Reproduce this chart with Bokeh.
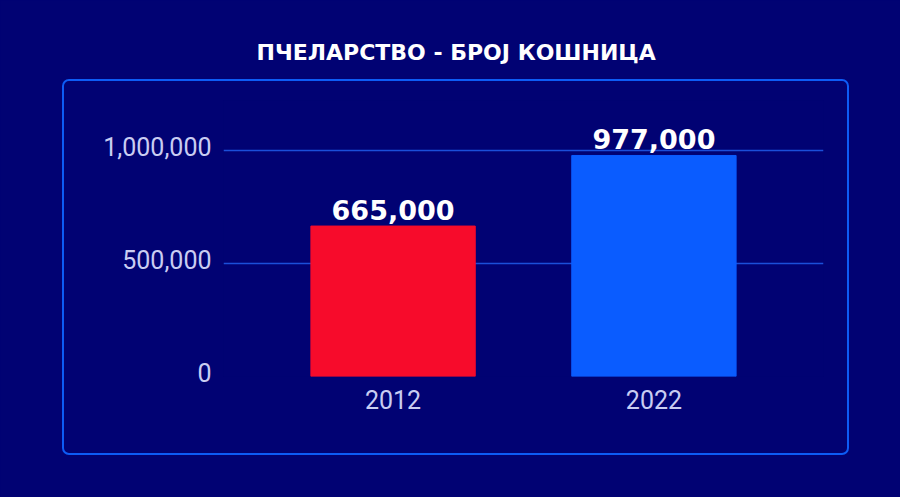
from bokeh.plotting import figure
from bokeh.models import (ColumnDataSource, FactorRange, Range1d, FixedTicker,
                          NumeralTickFormatter, Title, LinearAxis, InlineStyleSheet)
from bokeh.core.properties import value
from bokeh.embed import file_html
from bokeh.resources import INLINE

title_text = "ПЧЕЛАРСТВО - БРОЈ КОШНИЦА"
years = ["2012", "2022"]
hives = [665000, 977000]
hive_labels = ["665,000", "977,000"]
bar_colors = ["#f70b2b", "#0a5cff"]
y_ticks = [0, 500000, 1000000]

BG = "#010273"
Y_END = 1220000
LABEL_SHIFT = 18000  # lift tick labels a few pixels above their grid lines

src = ColumnDataSource(dict(x=years, top=hives, lbl=hive_labels, color=bar_colors))

p = figure(width=900, height=497, output_backend="svg", toolbar_location=None,
           x_range=FactorRange(*years, range_padding=0.15, range_padding_units="absolute"),
           y_range=Range1d(0, Y_END),
           min_border_left=223, min_border_right=77, min_border_top=100, min_border_bottom=121)
p.background_fill_color = BG
p.border_fill_color = BG
p.outline_line_color = None

p.title = Title(text=title_text, align="left", offset=33, standoff=72,
                text_color="white", text_font="DejaVu Sans", text_font_style="bold",
                text_font_size="22px")

p.vbar(x="x", top="top", width=0.63, color="color", source=src)
p.text(x="x", y="top", text="lbl", source=src, text_align="center", text_baseline="bottom",
       y_offset=-6, text_color="white", text_font=value("DejaVu Sans"), text_font_style="bold",
       text_font_size="27px")

p.xgrid.grid_line_color = None
p.ygrid.grid_line_color = "#1b4fd9"
p.ygrid.grid_line_width = 1.5
p.yaxis.ticker = FixedTicker(ticks=y_ticks)
p.yaxis.visible = False

p.extra_y_ranges = {"lbl": Range1d(-LABEL_SHIFT, Y_END - LABEL_SHIFT)}
yax = LinearAxis(y_range_name="lbl", ticker=FixedTicker(ticks=y_ticks),
                 formatter=NumeralTickFormatter(format="0,0"))
p.add_layout(yax, "left")

for ax in (p.xaxis[0], yax):
    ax.axis_line_color = None
    ax.major_tick_line_color = None
    ax.minor_tick_line_color = None
    ax.major_label_text_color = "#c9cdf2"
    ax.major_label_text_font = "Roboto"
    ax.major_label_text_font_size = "25px"
yax.major_label_standoff = 6
p.xaxis.major_label_standoff = 7

# page background and the rounded panel border around the chart area
p.stylesheets = [InlineStyleSheet(css="""
:host { position: relative; background-color: #010273; }
:host::after {
  content: ""; position: absolute; left: 62px; top: 79px; width: 787px; height: 376px;
  box-sizing: border-box; border: 2.5px solid #0d5cf6; border-radius: 7px;
  pointer-events: none; z-index: 10;
}
""")]

open("out.html", "w").write(file_html(p, INLINE))
